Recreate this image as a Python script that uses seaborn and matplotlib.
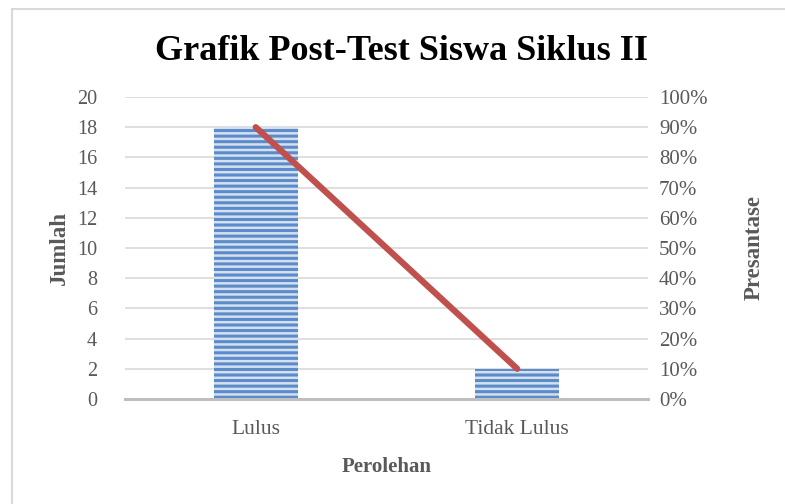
import matplotlib.pyplot as plt
import seaborn as sns
import pandas as pd
from matplotlib.patches import Rectangle
from matplotlib.ticker import PercentFormatter

# data
kategori = ['Lulus', 'Tidak Lulus']
jumlah = [18, 2]
presentase = [90, 10]

df = pd.DataFrame({'Perolehan': kategori, 'Jumlah': jumlah, 'Presantase': presentase})

sns.set_style('white')
plt.rcParams['font.family'] = ['Liberation Serif', 'DejaVu Serif']
plt.rcParams['hatch.linewidth'] = 2.2

grey = '#595959'
fig = plt.figure(figsize=(7.85, 5.04), dpi=100)
ax = fig.add_axes([125 / 785, 1 - 399 / 504, (648 - 125) / 785, (399 - 97) / 504])

sns.barplot(data=df, x='Perolehan', y='Jumlah', ax=ax, width=0.32,
            color='#d4e0f0', linewidth=0, hatch='---', zorder=2)
for p in ax.patches:
    p.set_edgecolor('#5b8bc8')
    p.set_facecolor('#d4e0f0')

ax.set_ylim(0, 20)
ax.set_yticks(range(0, 21, 2))
ax.set_xlim(-0.5, 1.5)
ax.yaxis.grid(True, color='#d9d9d9', linewidth=1.2, zorder=0)
ax.set_axisbelow(True)
for s in ['top', 'right', 'left']:
    ax.spines[s].set_visible(False)
ax.spines['bottom'].set_color('#bfbfbf')
ax.spines['bottom'].set_linewidth(2.2)
ax.tick_params(axis='y', length=0, labelsize=14.5, colors=grey, pad=20)
ax.tick_params(axis='x', length=0, labelsize=15.5, colors=grey, pad=15)
ax.set_xlabel('Perolehan', fontsize=15, fontweight='bold', color=grey, labelpad=13)
ax.set_ylabel('Jumlah', fontsize=16.5, fontweight='bold', color=grey, labelpad=5)

ax2 = ax.twinx()
sns.lineplot(data=df, x='Perolehan', y='Presantase', ax=ax2, color='#c0504d',
             linewidth=4.5, sort=False, zorder=3)
ax2.set_ylim(0, 100)
ax2.set_yticks(range(0, 101, 10))
ax2.yaxis.set_major_formatter(PercentFormatter(decimals=0))
for s in ['top', 'right', 'left', 'bottom']:
    ax2.spines[s].set_visible(False)
ax2.tick_params(axis='y', length=0, labelsize=15, colors=grey, pad=8)
ax2.set_ylabel('Presantase', fontsize=16.5, fontweight='bold', color=grey, labelpad=26)
ax2.grid(False)

fig.text((123 + 680) / 2 / 785, 1 - 52 / 504, 'Grafik Post-Test Siswa Siklus II',
         ha='center', va='center', fontsize=26, fontweight='bold', color='black')

fig.patches.append(Rectangle((12 / 785, -0.1), 1.2, 1 - 9 / 504 + 0.1, transform=fig.transFigure,
                             fill=False, edgecolor='#d9d9d9', linewidth=1.5))

fig.savefig('out.png', dpi=100)
